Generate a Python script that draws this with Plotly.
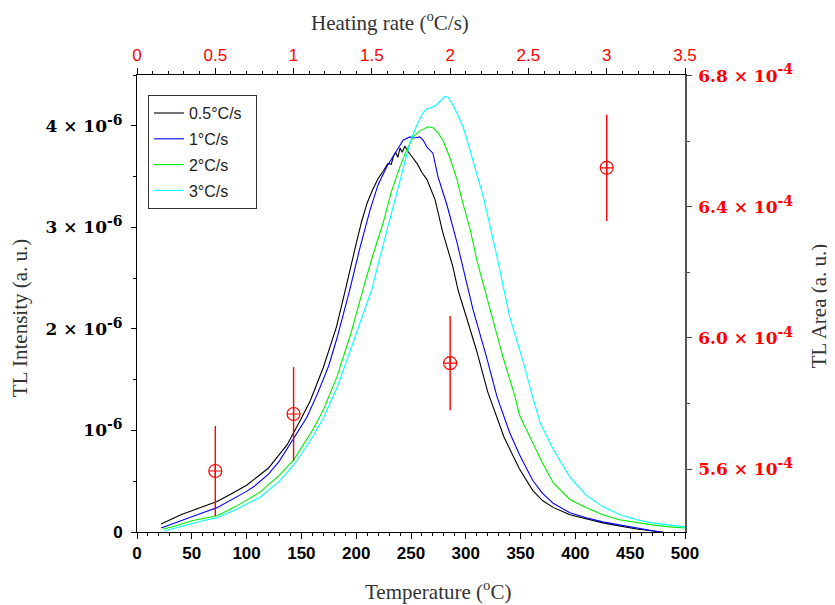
import plotly.graph_objects as go

# ---------------- data ----------------
rate_labels = ["0.5°C/s", "1°C/s", "2°C/s", "3°C/s"]
rate_colors = ["#000000", "#0000ff", "#00ee00", "#00ffff"]

temp_05 = [22, 30, 40, 50, 60, 73, 85, 100, 120, 137, 150, 158, 170, 182, 190, 195, 200, 205, 210,
           215, 220, 225, 229, 232, 234, 236, 238, 240, 242, 244.5, 247, 250, 252, 256, 260, 264.6,
           272, 279, 288, 293, 301, 310, 320, 335, 349, 361, 370, 380, 395, 410, 425, 440, 456, 471, 480]
int_05 = [0.08, 0.12, 0.17, 0.21, 0.25, 0.30, 0.37, 0.46, 0.63, 0.86, 1.12, 1.29, 1.62, 2.02, 2.38,
          2.62, 2.84, 3.06, 3.24, 3.37, 3.48, 3.56, 3.63, 3.62, 3.70, 3.74, 3.69, 3.78, 3.74, 3.80,
          3.75, 3.71, 3.68, 3.62, 3.54, 3.47, 3.27, 2.95, 2.62, 2.38, 2.10, 1.78, 1.38, 0.93, 0.62,
          0.41, 0.31, 0.24, 0.17, 0.13, 0.09, 0.06, 0.03, 0.01, 0.0]

temp_1 = [22, 30, 40, 50, 60, 73, 85, 100, 107, 120, 130, 143, 155, 165, 175, 182.5, 194, 203,
          212.6, 220, 228, 236, 243, 249, 253, 258, 261, 264.6, 270, 274.6, 282.8, 292, 302,
          306.6, 319, 328.5, 340, 349, 361, 370, 380, 395, 410, 425, 440, 456, 477]
int_1 = [0.04, 0.07, 0.11, 0.15, 0.19, 0.24, 0.31, 0.40, 0.45, 0.57, 0.70, 0.93, 1.13, 1.37, 1.64,
         1.91, 2.38, 2.78, 3.17, 3.42, 3.60, 3.74, 3.86, 3.89, 3.88, 3.89, 3.86, 3.79, 3.73, 3.50,
         3.22, 2.85, 2.40, 2.19, 1.72, 1.33, 0.98, 0.76, 0.51, 0.38, 0.28, 0.19, 0.14, 0.10, 0.07,
         0.04, 0.0]

temp_2 = [24, 35, 50, 60, 73, 90, 112, 130, 143, 160, 170, 182.5, 195, 206, 215, 224.5, 232, 240,
          246, 252, 258, 265.5, 270, 274, 279, 285, 292, 296.5, 304, 310, 322, 334, 345, 349,
          361, 370, 380, 395, 410, 425, 440, 456, 470, 486, 500]
int_2 = [0.03, 0.06, 0.11, 0.13, 0.16, 0.25, 0.39, 0.56, 0.71, 1.00, 1.20, 1.53, 1.95, 2.38, 2.72,
         3.04, 3.35, 3.60, 3.76, 3.89, 3.95, 3.99, 3.98, 3.94, 3.86, 3.70, 3.47, 3.27, 2.98, 2.68,
         2.19, 1.72, 1.33, 1.15, 0.88, 0.68, 0.48, 0.32, 0.24, 0.17, 0.12, 0.09, 0.07, 0.05, 0.04]

temp_3 = [25, 35, 50, 60, 73, 90, 112, 130, 143, 160, 170, 182.5, 195, 205, 214, 222, 231, 240,
          249, 255, 261, 265, 269, 273.7, 277, 281, 284, 288, 292, 297.5, 302, 306.6, 313, 316,
          322, 328.5, 340, 352, 361, 368, 380, 395, 410, 425, 441, 456, 470, 486, 500]
int_3 = [0.01, 0.04, 0.08, 0.11, 0.14, 0.22, 0.34, 0.50, 0.66, 0.93, 1.12, 1.42, 1.80, 2.10, 2.38,
         2.72, 3.10, 3.48, 3.83, 4.00, 4.13, 4.17, 4.18, 4.21, 4.25, 4.29, 4.28, 4.21, 4.12, 3.99,
         3.83, 3.66, 3.42, 3.30, 3.02, 2.71, 2.12, 1.69, 1.33, 1.07, 0.81, 0.54, 0.36, 0.25, 0.17,
         0.12, 0.09, 0.07, 0.05]

heating_rate = [0.5, 1, 2, 3]
tl_area = [5.594e-4, 5.768e-4, 5.923e-4, 6.519e-4]
tl_area_err = [0.137e-4, 0.143e-4, 0.144e-4, 0.162e-4]

SUP = '<sup><span style="font-size:14px">{}</span></sup>'
left_tickvals = [0, 1e-6, 2e-6, 3e-6, 4e-6]
left_ticktext = ['<span style="font-family:Liberation Sans">0</span>',
                 "10" + SUP.format("-6"),
                 "2 × 10" + SUP.format("-6"),
                 "3 × 10" + SUP.format("-6"),
                 "4 × 10" + SUP.format("-6")]
right_tickvals = [5.6e-4, 6.0e-4, 6.4e-4, 6.8e-4]
right_ticktext = ["5.6 × 10" + SUP.format("-4"), "6.0 × 10" + SUP.format("-4"),
                  "6.4 × 10" + SUP.format("-4"), "6.8 × 10" + SUP.format("-4")]

# ---------------- figure ----------------
fig = go.Figure()
curves = [(temp_05, int_05), (temp_1, int_1), (temp_2, int_2), (temp_3, int_3)]
for i, ((t, v), name, col) in enumerate(zip(curves, rate_labels, rate_colors)):
    fig.add_trace(go.Scatter(
        x=t, y=[a * 1e-6 for a in v], mode="lines", name=name + "\u00a0\u00a0",
        line=dict(color=col, width=1.1), legendgroup=f"g{i}",
        xaxis="x", yaxis="y"))

fig.add_trace(go.Scatter(
    x=heating_rate, y=tl_area, mode="markers", showlegend=False,
    marker=dict(symbol="circle-cross-open", size=13, color="#ff0000", line=dict(width=1.2)),
    error_y=dict(type="data", array=tl_area_err, visible=True, color="#ff0000",
                 thickness=1.4, width=0),
    xaxis="x2", yaxis="y2"))

serif = "Liberation Serif"
mathserif = "DejaVu Serif"
sans = "Liberation Sans"

fig.update_layout(
    width=827, height=597,
    margin=dict(l=129, r=150, t=67, b=73),
    paper_bgcolor="white", plot_bgcolor="white",
    showlegend=True,
    legend=dict(x=0.02, y=0.956, xanchor="left", yanchor="top",
                bgcolor="white", bordercolor="#333333", borderwidth=1,
                font=dict(family=sans, size=16, color="#222222"),
                traceorder="grouped", tracegroupgap=2),
    xaxis=dict(range=[0, 500], tickmode="linear", tick0=0, dtick=50,
               ticks="outside", ticklen=6, tickwidth=1, tickcolor="black",
               minor=dict(tickmode="linear", tick0=0, dtick=10, ticks="outside",
                          ticklen=3, tickcolor="black", tickwidth=1),
               showline=True, linecolor="black", linewidth=1,
               showgrid=False, zeroline=False,
               tickfont=dict(family=sans, size=17, color="black", weight="bold")),
    yaxis=dict(range=[0, 4.5e-6], tickmode="array", tickvals=left_tickvals,
               ticktext=left_ticktext, ticklabelstandoff=5,
               ticks="outside", ticklen=5, tickwidth=1, tickcolor="black",
               minor=dict(tickmode="linear", tick0=0, dtick=0.5e-6, ticks="outside",
                          ticklen=3, tickcolor="black", tickwidth=1),
               showline=True, linecolor="black", linewidth=1,
               showgrid=False, zeroline=False,
               tickfont=dict(family=mathserif, size=17, color="black", weight="bold")),
    xaxis2=dict(range=[0, 3.5], overlaying="x", side="top", anchor="y",
                tickmode="linear", tick0=0, dtick=0.5,
                ticks="outside", ticklen=6, tickwidth=1, tickcolor="black",
                minor=dict(tickmode="linear", tick0=0, dtick=0.1, ticks="outside",
                           ticklen=3, tickcolor="black", tickwidth=1),
                showline=True, linecolor="black", linewidth=1,
                showgrid=False, zeroline=False,
                tickfont=dict(family=sans, size=17, color="#ff0000")),
    yaxis2=dict(range=[5.408e-4, 6.802e-4], overlaying="y", side="right", anchor="x",
                tickmode="array", tickvals=right_tickvals, ticktext=right_ticktext,
                ticklabelstandoff=3,
                ticks="outside", ticklen=5, tickwidth=1, tickcolor="#444444",
                minor=dict(tickmode="linear", tick0=5.6e-4, dtick=0.2e-4, ticks="outside",
                           ticklen=3, tickcolor="#444444", tickwidth=1),
                showline=True, linecolor="#555555", linewidth=1.5,
                showgrid=False, zeroline=False,
                tickfont=dict(family=mathserif, size=17, color="#ff0000", weight="bold")),
)

title_font = dict(family=serif, size=21, color="#333333")
common = dict(xref="paper", yref="paper", showarrow=False, font=title_font,
              xanchor="center", yanchor="middle")
fig.add_annotation(text="Heating rate (<sup>o</sup>C/s)", x=0.4617, y=1.118, **common)
fig.add_annotation(text="Temperature (<sup>o</sup>C)", x=0.549, y=-0.127, **common)
fig.add_annotation(text="TL Intensity (a. u.)", x=-0.2135, y=0.468, textangle=-90, **common)
fig.add_annotation(text="TL Area (a. u.)", x=1.245, y=0.4945, textangle=-90, **common)

fig.write_html("out.html")
